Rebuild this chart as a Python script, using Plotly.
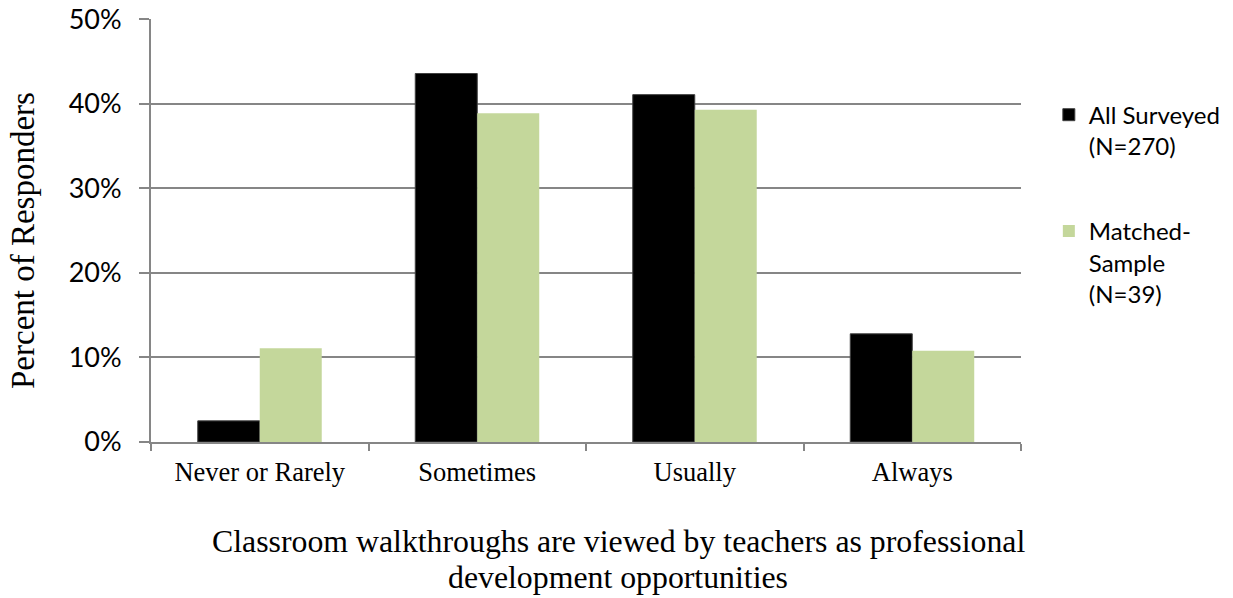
import plotly.graph_objects as go

categories = ["Never or Rarely", "Sometimes", "Usually", "Always"]
all_surveyed = [2.5, 43.6, 41.1, 12.8]
matched_sample = [11.1, 38.9, 39.3, 10.8]
series_names = ["All Surveyed<br>(N=270)", "Matched-<br>Sample<br>(N=39)"]
y_ticks = [0, 10, 20, 30, 40, 50]
y_tick_labels = ["0%", "10%", "20%", "30%", "40%", "50%"]
y_title = "Percent of Responders"
x_title_lines = ["Classroom walkthroughs are viewed by teachers as professional",
                 "development opportunities"]

GRID = "#868686"
sans = "Lato, Calibri, Carlito, sans-serif"
serif = "Liberation Serif, Times New Roman, serif"

fig = go.Figure()
fig.add_trace(go.Bar(x=categories, y=all_surveyed, name=series_names[0],
                     marker=dict(color="#000000", line=dict(color="#404040", width=1)),
                     legendgroup="a"))
fig.add_trace(go.Bar(x=categories, y=matched_sample, name=series_names[1],
                     marker=dict(color="#C4D79B", line=dict(width=0)),
                     legendgroup="b"))

fig.update_layout(
    width=1233, height=598,
    paper_bgcolor="white", plot_bgcolor="white",
    margin=dict(l=151, r=212, t=19, b=156, autoexpand=False),
    barmode="group", bargap=0.43, bargroupgap=0,
    font=dict(family=sans, color="black"),
    legend=dict(x=1.032, y=0.826, xanchor="left", yanchor="top",
                font=dict(family=sans, size=24, color="black"),
                valign="top", tracegroupgap=51, itemwidth=30,
                bgcolor="rgba(0,0,0,0)"),
    xaxis=dict(type="category", tickson="boundaries", ticks="outside", ticklen=7,
               tickcolor=GRID, tickwidth=2, showline=True, linecolor=GRID, linewidth=2,
               showgrid=False, automargin=False, ticklabelstandoff=5,
               tickfont=dict(family=serif, size=26.5, color="black")),
    yaxis=dict(range=[0, 50.05], tickvals=y_ticks, ticktext=y_tick_labels,
               ticks="outside", ticklen=10, tickcolor=GRID, tickwidth=2,
               showline=True, linecolor=GRID, linewidth=2, automargin=False,
               ticklabeloverflow="allow", ticklabelstandoff=12,
               showgrid=True, gridcolor=GRID, gridwidth=2, zeroline=False,
               tickfont=dict(family=sans, size=27, color="black")),
    annotations=[
        dict(text=y_title, textangle=-90, xref="paper", yref="paper",
             x=(23 - 151) / 870, y=(442 - 241) / 423, xanchor="center", yanchor="middle",
             showarrow=False, font=dict(family=serif, size=33, color="black")),
        dict(text=x_title_lines[0], xref="paper", yref="paper", x=(618 - 151) / 870, y=-0.19,
             xanchor="center", yanchor="top", showarrow=False,
             font=dict(family=serif, size=31.8, color="black")),
        dict(text=x_title_lines[1], xref="paper", yref="paper", x=(618 - 151) / 870, y=-0.274,
             xanchor="center", yanchor="top", showarrow=False,
             font=dict(family=serif, size=31.8, color="black")),
    ],
)

fig.write_html("out.html", config={"displayModeBar": False},
               post_script="document.body.style.margin='0';")
